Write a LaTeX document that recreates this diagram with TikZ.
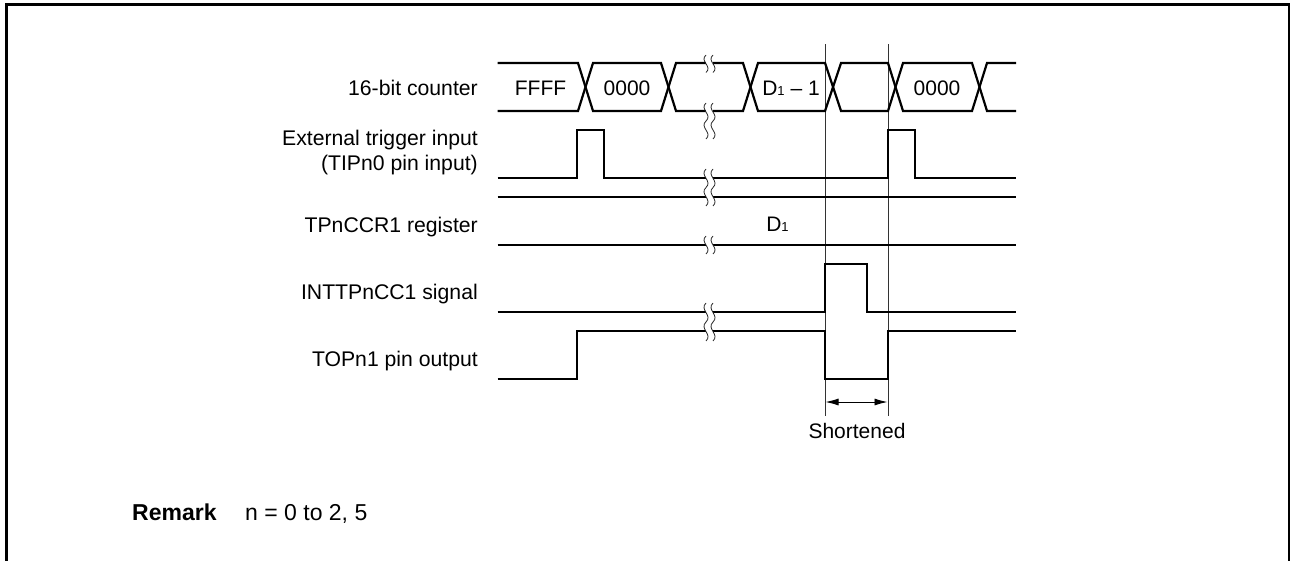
\documentclass[tikz,border=0pt]{standalone}
\usepackage{fontspec}
\setmainfont{Liberation Sans}
\usetikzlibrary{arrows.meta}
\tikzset{
  frameline/.style={line width=3pt,line cap=butt,line join=miter},
  sig/.style={line width=2.2pt,line join=miter,line cap=butt},
  guide/.style={line width=0.9pt,black!80},
  waveline/.style={line width=0.8pt,black!85},
  lbl/.style={font=\fontsize{21.2}{25}\selectfont,inner sep=0pt,align=right},
  val/.style={font=\fontsize{21}{25}\selectfont,inner sep=0pt},
  dim/.style={line width=0.9pt,{Latex[length=13pt,width=7pt]}-{Latex[length=13pt,width=7pt]}}
}
\newcommand{\subone}{{\fontsize{13}{13}\selectfont 1}}
\newcommand{\brk}[3]{%
  \fill[white] (706,#1) rectangle (713,{#1+#2*#3});
  \foreach \i in {1,...,#3}{
    \pgfmathsetmacro{\ya}{#1+(\i-1)*#2}
    \pgfmathsetmacro{\yb}{#1+\i*#2}
    \draw[waveline] (706,\ya) .. controls (699,{\ya+0.35*#2}) and (713,{\ya+0.65*#2}) .. (706,\yb);
    \draw[waveline] (713,\ya) .. controls (706,{\ya+0.35*#2}) and (720,{\ya+0.65*#2}) .. (713,\yb);
  }%
}
\begin{document}
\begin{tikzpicture}[x=1pt,y=-1pt]
\useasboundingbox (0,0) rectangle (1290,560);
\clip (0,0) rectangle (1290,560);
\draw[frameline] (6.5,561) -- (6.5,4.5) -- (1289.5,4.5) -- (1289.5,561);

\coordinate (gAt) at (825,44);
\coordinate (gAb) at (825,416);
\coordinate (gBt) at (888,44);
\coordinate (gBb) at (888,416);
\draw[guide] (gAt) -- (gAb);
\draw[guide] (gBt) -- (gBb);

\draw[sig] (497.5,63) -- (578,63) -- (593,111) -- (661,111) -- (676,63) -- (743,63) -- (758,111) -- (825,111) -- (841,63) -- (888,63) -- (903,111) -- (972,111) -- (987,63) -- (1016,63);
\draw[sig] (497.5,111) -- (578,111) -- (593,63) -- (661,63) -- (676,111) -- (743,111) -- (758,63) -- (825,63) -- (841,111) -- (888,111) -- (903,63) -- (972,63) -- (987,111) -- (1016,111);
\draw[sig] (497.5,178) -- (577,178) -- (577,130) -- (604,130) -- (604,178) -- (888,178) -- (888,130) -- (915,130) -- (915,178) -- (1016,178);
\draw[sig] (497.5,197) -- (1016,197);
\draw[sig] (497.5,245) -- (1016,245);
\draw[sig] (497.5,312) -- (825,312) -- (825,264) -- (867,264) -- (867,312) -- (1016,312);
\draw[sig] (497.5,379) -- (577,379) -- (577,331) -- (825,331) -- (825,379) -- (888,379) -- (888,331) -- (1016,331);

\brk{55}{17.5}{1}
\brk{103}{18}{2}
\brk{169}{18.5}{2}
\brk{236}{18}{1}
\brk{303}{19}{2}

\node[lbl,anchor=base east] (l1) at (478,95) {16-bit counter};
\node[lbl,anchor=base east] (l2a) at (478,145) {External trigger input};
\node[lbl,anchor=base east] (l2b) at (478,170) {(TIPn0 pin input)};
\node[lbl,anchor=base east] (l3) at (478,232) {TPnCCR1 register};
\node[lbl,anchor=base east] (l4) at (478,299) {INTTPnCC1 signal};
\node[lbl,anchor=base east] (l5) at (478,366) {TOPn1 pin output};

\node[val,anchor=base] (v1) at (540.5,95) {FFFF};
\node[val,anchor=base] (v2) at (627,95) {0000};
\node[val,anchor=base] (v3) at (791,95) {D\subone{} – 1};
\node[val,anchor=base] (v4) at (937,95) {0000};
\node[val,anchor=base] (v5) at (777.5,231) {D\subone};

\coordinate (dA) at (825.5,402);
\coordinate (dB) at (887.5,402);
\draw[dim] (dA) -- (dB);
\node[val,anchor=base] (s) at (857,438) {Shortened};

\node[val,anchor=base west,font=\fontsize{23}{25}\selectfont\bfseries] (r1) at (132,520.5) {Remark};
\node[val,anchor=base west,font=\fontsize{23}{25}\selectfont] (r2) at (245,520.5) {n = 0 to 2, 5};
\end{tikzpicture}
\end{document}
